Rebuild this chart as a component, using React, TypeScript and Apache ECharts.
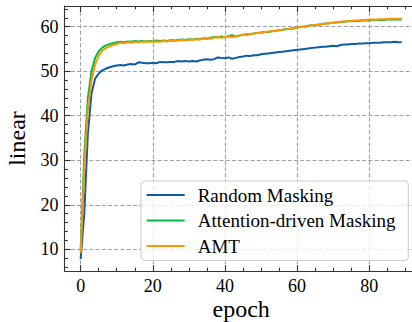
import React, { useEffect, useRef } from "react";
import * as echarts from "echarts";

const seriesNames = ["Random Masking", "Attention-driven Masking", "AMT"];
const colors = ["#0C5DA5", "#00B945", "#FF9500"];

const randomMasking = [
  7.8, 18, 36, 45, 48.3, 49.5, 50.2, 50.6, 50.9, 51.1,
  51.3, 51.4, 51.3, 51.5, 51.6, 51.5, 52.0, 51.9, 51.8, 51.8,
  51.9, 51.8, 52.1, 52.0, 52.0, 52.1, 52.1, 52.3, 52.2, 52.3,
  52.2, 52.3, 52.2, 52.4, 52.6, 52.7, 52.6, 52.7, 53.1, 53.0,
  52.9, 53.1, 52.8, 53.0, 53.2, 53.3, 53.5, 53.4, 53.6, 53.6,
  53.8, 53.9, 54.0, 54.1, 54.2, 54.3, 54.4, 54.5, 54.6, 54.7,
  54.8, 54.9, 55.0, 55.1, 55.2, 55.3, 55.4, 55.5, 55.5, 55.6,
  55.7, 55.6, 55.9, 56.0, 56.0, 56.1, 56.1, 56.2, 56.2, 56.3,
  56.3, 56.4, 56.4, 56.4, 56.5, 56.5, 56.5, 56.6, 56.5, 56.5,
];

const attentionMasking = [
  9.8, 31, 44, 50, 53, 54.5, 55.3, 55.8, 56.1, 56.3,
  56.5, 56.6, 56.5, 56.7, 56.6, 56.8, 56.7, 56.8, 56.7, 56.8,
  56.7, 56.9, 56.8, 56.9, 56.8, 57.0, 56.9, 57.0, 57.1, 57.0,
  57.2, 57.1, 57.3, 57.2, 57.4, 57.3, 57.5, 57.7, 57.6, 57.8,
  57.6, 57.9, 58.1, 57.8, 58.0, 58.2, 58.3, 58.3, 58.5, 58.6,
  58.7, 58.8, 58.8, 59.0, 59.1, 59.2, 59.3, 59.5, 59.5, 59.7,
  59.8, 60.0, 60.0, 60.2, 60.3, 60.4, 60.5, 60.6, 60.7, 60.8,
  60.9, 61.0, 61.0, 61.1, 61.2, 61.2, 61.3, 61.3, 61.4, 61.4,
  61.4, 61.5, 61.5, 61.5, 61.5, 61.6, 61.6, 61.6, 61.6, 61.6,
];

const amt = [
  9.2, 28, 41.5, 48, 51.5, 53.5, 54.6, 55.2, 55.6, 55.9,
  56.1, 56.4, 56.3, 56.5, 56.4, 56.6, 56.5, 56.6, 56.7, 56.6,
  56.6, 56.7, 56.6, 56.8, 56.7, 56.9, 56.8, 56.9, 57.0, 56.9,
  57.1, 57.0, 57.2, 57.1, 57.3, 57.4, 57.3, 57.6, 57.7, 57.5,
  57.7, 57.8, 57.6, 57.9, 58.0, 58.2, 58.1, 58.4, 58.4, 58.6,
  58.6, 58.8, 58.9, 59.0, 59.1, 59.2, 59.3, 59.4, 59.5, 59.6,
  59.8, 59.9, 60.0, 60.1, 60.3, 60.4, 60.4, 60.6, 60.7, 60.8,
  60.9, 61.0, 61.1, 61.2, 61.2, 61.3, 61.4, 61.4, 61.5, 61.5,
  61.6, 61.6, 61.6, 61.7, 61.7, 61.7, 61.8, 61.8, 61.8, 61.8,
];

const xMajorTicks = [0, 20, 40, 60, 80];
const xMinorTicks = [5, 10, 15, 25, 30, 35, 45, 50, 55, 65, 70, 75, 85, 90];
const yMajorTicks = [10, 20, 30, 40, 50, 60];
const yMinorTicks = [6, 8, 12, 14, 16, 18, 22, 24, 26, 28, 32, 34, 36, 38, 42, 44, 46, 48, 52, 54, 56, 58, 62, 64];

const X_MIN = -4.45;
const X_MAX = 93.45;
const Y_MIN = 5.13;
const Y_MAX = 64.65;

const FONT = "'Liberation Serif', 'Times New Roman', serif";
const SPINE = "#333";

export default function App() {
  const ref = useRef<HTMLDivElement>(null);

  useEffect(() => {
    if (!ref.current) return;
    const chart = echarts.init(ref.current, undefined, { renderer: "svg" });

    const tickStyle = { color: SPINE, width: 1.1 };
    const baseX = (position: string, ticks: number[], len: number, major: boolean, spine: boolean) => ({
      type: "value",
      position,
      min: X_MIN,
      max: X_MAX,
      gridIndex: 0,
      axisLine: { show: spine, onZero: false, lineStyle: { color: SPINE, width: 1.1 } },
      axisTick: { show: true, inside: true, length: len, customValues: ticks, lineStyle: tickStyle },
      axisLabel: {
        show: major && position === "bottom",
        customValues: ticks,
        margin: 6,
        color: "#000",
        fontFamily: FONT,
        fontSize: 18,
      },
      splitLine: {
        show: major && position === "bottom",
        lineStyle: { color: "#a0a0a0", width: 1.1, type: [4, 2.2] },
      },
    });
    const baseY = (position: string, ticks: number[], len: number, major: boolean, spine: boolean) => ({
      type: "value",
      position,
      min: Y_MIN,
      max: Y_MAX,
      gridIndex: 0,
      axisLine: { show: spine, onZero: false, lineStyle: { color: SPINE, width: 1.1 } },
      axisTick: { show: true, inside: true, length: len, customValues: ticks, lineStyle: tickStyle },
      axisLabel: {
        show: major && position === "left",
        customValues: ticks,
        margin: 6,
        color: "#000",
        fontFamily: FONT,
        fontSize: 18,
      },
      splitLine: {
        show: major && position === "left",
        lineStyle: { color: "#a0a0a0", width: 1.1, type: [4, 2.2] },
      },
    });

    const xMain: any = baseX("bottom", xMajorTicks, 6, true, true);
    xMain.name = "epoch";
    xMain.nameLocation = "middle";
    xMain.nameGap = 26;
    xMain.nameMoveOverlap = false;
    xMain.nameTextStyle = { fontFamily: FONT, fontSize: 24, color: "#000" };

    const yMain: any = baseY("left", yMajorTicks, 6, true, true);
    yMain.name = "linear";
    yMain.nameLocation = "middle";
    yMain.nameGap = 36;
    yMain.nameMoveOverlap = false;
    yMain.nameTextStyle = { fontFamily: FONT, fontSize: 24, color: "#000" };

    const allSeries = [randomMasking, attentionMasking, amt];

    chart.setOption({
      animation: false,
      backgroundColor: "#fff",
      grid: {
        left: 64.6,
        right: -5.8,
        top: 6,
        bottom: 51,
        containLabel: false,
        outerBoundsMode: "none",
      },
      xAxis: [
        xMain,
        baseX("bottom", xMinorTicks, 3.3, false, false),
        baseX("top", xMajorTicks, 6, false, true),
        baseX("top", xMinorTicks, 3.3, false, false),
      ],
      yAxis: [
        yMain,
        baseY("left", yMinorTicks, 3.3, false, false),
        baseY("right", yMajorTicks, 6, false, true),
        baseY("right", yMinorTicks, 3.3, false, false),
      ],
      legend: {
        orient: "vertical",
        left: 141,
        top: 181,
        padding: [4.5, 12.7, 5, 5.7],
        icon: "rect",
        itemWidth: 38,
        itemHeight: 2.2,
        itemGap: 6.5,
        backgroundColor: "rgba(255,255,255,0.8)",
        borderColor: "#cccccc",
        borderWidth: 1.1,
        borderRadius: 4,
        textStyle: {
          fontFamily: FONT,
          fontSize: 19,
          lineHeight: 19,
          color: "#000",
          padding: [0, 0, 0, 8],
        },
        data: seriesNames,
      },
      series: allSeries.map((vals, k) => ({
        type: "line",
        name: seriesNames[k],
        xAxisIndex: 0,
        yAxisIndex: 0,
        data: vals.map((v, i) => [i, v]),
        showSymbol: false,
        symbol: "none",
        color: colors[k],
        lineStyle: { color: colors[k], width: 2 },
        z: 2 + k,
      })),
    });

    return () => chart.dispose();
  }, []);

  return (
    <div
      ref={ref}
      style={{ position: "fixed", left: 0, top: 0, width: 412, height: 322 }}
    />
  );
}
